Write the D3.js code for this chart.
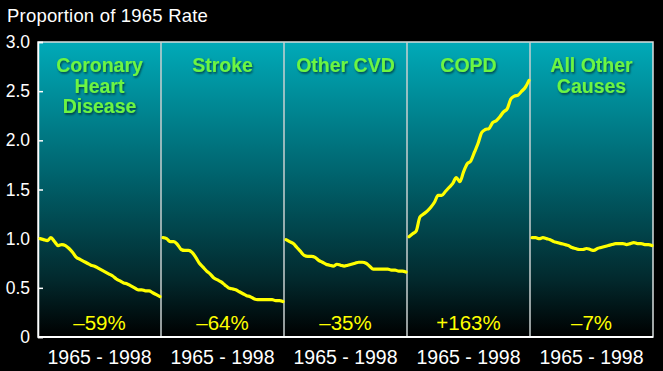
<!DOCTYPE html>
<html><head><meta charset="utf-8">
<script src="https://cdn.jsdelivr.net/npm/d3@7"></script>
<style>
html,body{margin:0;padding:0;background:#000;}
svg{display:block;font-family:"Liberation Sans",Arial,Helvetica,sans-serif;}
</style></head>
<body><svg id="c" width="663" height="371"></svg>
<script>
const years = d3.range(1965, 1999);
const panels = ["Coronary Heart Disease","Stroke","Other CVD","COPD","All Other Causes"];
const panelTitleLines = [["Coronary","Heart","Disease"],["Stroke"],["Other CVD"],["COPD"],["All Other","Causes"]];
const changeLabels = ["\u201359%","\u201364%","\u201335%","+163%","\u20137%"];
const xLabel = "1965 - 1998";
const yTicks = [0,0.5,1.0,1.5,2.0,2.5,3.0];
const yTickLabels = ["0","0.5","1.0","1.5","2.0","2.5","3.0"];
const chd = [1.00,0.99,0.98,1.01,0.97,0.93,0.94,0.93,0.90,0.86,0.81,0.79,0.77,0.75,0.73,0.72,0.70,0.68,0.66,0.64,0.62,0.59,0.57,0.55,0.54,0.52,0.50,0.48,0.48,0.47,0.47,0.45,0.43,0.41];
const stroke = [1.01,1.00,0.97,0.97,0.94,0.89,0.88,0.88,0.86,0.81,0.75,0.71,0.67,0.64,0.60,0.58,0.56,0.53,0.50,0.49,0.48,0.46,0.44,0.42,0.41,0.39,0.38,0.38,0.38,0.38,0.38,0.37,0.37,0.36];
const otherCvd = [0.99,0.97,0.95,0.91,0.87,0.83,0.82,0.82,0.81,0.78,0.76,0.74,0.73,0.72,0.74,0.73,0.72,0.73,0.74,0.75,0.76,0.76,0.75,0.72,0.69,0.69,0.69,0.69,0.69,0.68,0.68,0.67,0.67,0.66];
const copd = [1.02,1.05,1.08,1.22,1.25,1.28,1.32,1.37,1.44,1.44,1.48,1.52,1.56,1.62,1.58,1.68,1.76,1.79,1.88,1.97,2.08,2.11,2.12,2.18,2.20,2.24,2.29,2.32,2.42,2.45,2.46,2.50,2.54,2.61];
const allOther = [1.01,1.01,1.00,1.01,1.00,0.99,0.97,0.96,0.95,0.94,0.93,0.91,0.90,0.89,0.89,0.90,0.89,0.88,0.90,0.91,0.92,0.93,0.94,0.95,0.95,0.95,0.94,0.95,0.96,0.95,0.95,0.94,0.94,0.93];
const seriesValues = [chd, stroke, otherCvd, copd, allOther];
const yTitle = "Proportion of 1965 Rate";

const svg = d3.select("#c");
const W = 663, H = 371;
const m = {left:38, right:10, top:42, bottom:34};
const x = d3.scaleBand().domain(panels).range([m.left, W - m.right]).padding(0);
const y = d3.scaleLinear().domain([0,3]).range([H - m.bottom, m.top]);

const defs = svg.append("defs");
const g = defs.append("linearGradient").attr("id","bg").attr("x1",0).attr("y1",0).attr("x2",0).attr("y2",1);
g.append("stop").attr("offset","0%").attr("stop-color","#00aab8");
g.append("stop").attr("offset","45%").attr("stop-color","#00636d");
g.append("stop").attr("offset","80%").attr("stop-color","#022a2e");
g.append("stop").attr("offset","100%").attr("stop-color","#000000");
const sh = defs.append("filter").attr("id","sh").attr("x","-10%").attr("y","-10%").attr("width","130%").attr("height","140%");
sh.append("feDropShadow").attr("dx",1).attr("dy",1.5).attr("stdDeviation",1).attr("flood-color","#000").attr("flood-opacity",0.6);

svg.append("rect").attr("x",0).attr("y",0).attr("width",W).attr("height",H).attr("fill","#000");
svg.append("rect").attr("x",x.range()[0]).attr("y",y(3)).attr("width",x.range()[1]-x.range()[0]).attr("height",y(0)-y(3)).attr("fill","url(#bg)");

// border / dividers
svg.append("rect").attr("x",x.range()[0]).attr("y",y(3)).attr("width",x.range()[1]-x.range()[0]).attr("height",y(0)-y(3))
  .attr("fill","none").attr("stroke","#d8dede").attr("stroke-width",1.5);
svg.selectAll("line.div").data(panels.slice(1)).join("line").attr("class","div")
  .attr("x1",d=>x(d)).attr("x2",d=>x(d)).attr("y1",y(3)).attr("y2",y(0))
  .attr("stroke","#c8d0d0").attr("stroke-width",1.5);
svg.append("line").attr("x1",x.range()[0]).attr("x2",x.range()[1]).attr("y1",y(0)).attr("y2",y(0)).attr("stroke","#fff").attr("stroke-width",2);

// y axis
const yAxis = d3.axisLeft(y).tickValues(yTicks).tickFormat((d,i)=>yTickLabels[i]).tickSize(-5).tickPadding(8);
const ya = svg.append("g").attr("transform",`translate(${m.left},0)`).call(yAxis);
ya.select(".domain").attr("stroke","#fff").attr("stroke-width",1.5);
ya.selectAll(".tick line").attr("stroke","#fff").attr("stroke-width",1.5);
ya.selectAll(".tick text").attr("fill","#fff").attr("font-size",17.5).attr("font-family","Liberation Sans, Arial, sans-serif");

svg.append("text").attr("x",7).attr("y",22).attr("fill","#fff").attr("font-size",18.5).attr("letter-spacing",0.2).text(yTitle);

// x labels
svg.selectAll("text.xl").data(panels).join("text").attr("class","xl")
  .attr("x",d=>x(d)+x.bandwidth()/2).attr("y",364).attr("text-anchor","middle")
  .attr("fill","#fff").attr("font-size",19.5).text(xLabel);

// panel titles
panels.forEach((p,i)=>{
  const t = svg.append("text").attr("x",x(p)+x.bandwidth()/2).attr("text-anchor","middle")
    .attr("fill","#6cf542").attr("font-weight","bold").attr("font-size",19.5).attr("filter","url(#sh)");
  panelTitleLines[i].forEach((ln,j)=>{
    t.append("tspan").attr("x",x(p)+x.bandwidth()/2).attr("y",72+j*20.7).text(ln);
  });
  svg.append("text").attr("x",x(p)+x.bandwidth()/2).attr("y",330).attr("text-anchor","middle")
    .attr("fill","#ffff00").attr("font-size",20.5).text(changeLabels[i]);
});

// lines
panels.forEach((p,i)=>{
  const xi = d3.scaleLinear().domain([1965,1998]).range([x(p)+2, x(p)+x.bandwidth()-1]);
  const line = d3.line().x((d,k)=>xi(years[k])).y(d=>y(d)).curve(d3.curveMonotoneX);
  svg.append("path").datum(seriesValues[i]).attr("d",line)
    .attr("fill","none").attr("stroke","#ffff00").attr("stroke-width",3.2).attr("stroke-linejoin","round").attr("stroke-linecap","round");
});
</script></body></html>
